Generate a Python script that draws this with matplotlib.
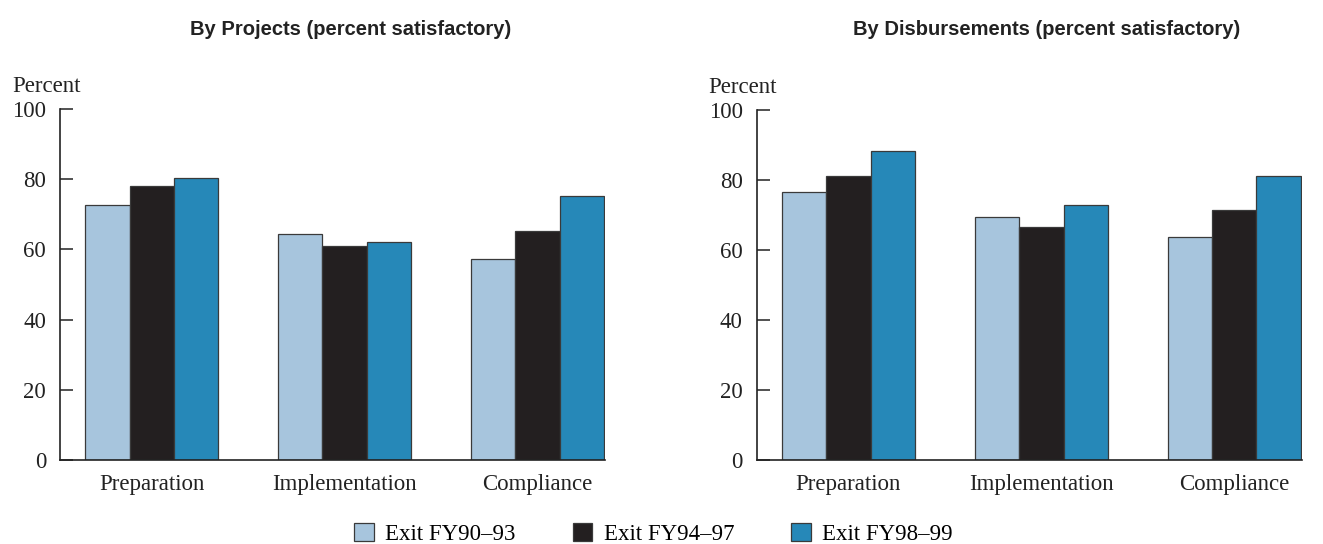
import matplotlib.pyplot as plt
import numpy as np
from matplotlib.patches import Patch

categories = ["Preparation", "Implementation", "Compliance"]
series = ["Exit FY90\u201393", "Exit FY94\u201397", "Exit FY98\u201399"]
colors = ["#a7c5dd", "#231f20", "#2688b8"]

projects = {
    "Exit FY90\u201393": [72.6, 64.4, 57.3],
    "Exit FY94\u201397": [78.0, 61.0, 65.2],
    "Exit FY98\u201399": [80.2, 62.1, 75.2],
}
disbursements = {
    "Exit FY90\u201393": [76.6, 69.5, 63.8],
    "Exit FY94\u201397": [81.2, 66.7, 71.5],
    "Exit FY98\u201399": [88.2, 72.8, 81.2],
}
yticks = [0, 20, 40, 60, 80, 100]

SERIF = "Liberation Serif"
SANS = "Liberation Sans"
FS = 16.5

fig = plt.figure(figsize=(13.23, 5.44), dpi=100)
ax_l = fig.add_axes([0.0454, 0.154, 0.412, 0.646])
ax_r = fig.add_axes([0.572, 0.154, 0.412, 0.644])

width = 0.23
x = np.arange(len(categories))


def draw(ax, data):
    for i, (name, col) in enumerate(zip(series, colors)):
        ax.bar(x + (i - 1) * width, data[name], width, color=col,
               edgecolor="#3a3a3a", linewidth=0.9, zorder=2)
    ax.set_xlim(-0.475, 2.35)
    ax.set_ylim(0, 100)
    ax.set_yticks(yticks)
    ax.set_xticks(x)
    ax.set_xticklabels(categories, fontfamily=SERIF, fontsize=FS)
    for lab in ax.get_yticklabels():
        lab.set_fontfamily(SERIF)
        lab.set_fontsize(FS)
    ax.tick_params(axis="y", direction="in", length=9, width=1.1, pad=10, colors="#222222")
    ax.tick_params(axis="x", length=0, pad=10, colors="#222222")
    for s in ["top", "right"]:
        ax.spines[s].set_visible(False)
    for s in ["left", "bottom"]:
        ax.spines[s].set_linewidth(1.2)
        ax.spines[s].set_color("#222222")
    ax.text(-0.088, 1.035, "Percent", transform=ax.transAxes, fontfamily=SERIF,
            fontsize=FS, color="#222222", ha="left", va="bottom")


draw(ax_l, projects)
draw(ax_r, disbursements)

fig.text(0.265, 0.945, "By Projects (percent satisfactory)", fontfamily=SANS,
         fontweight="bold", fontsize=14.5, ha="center", va="center", color="#222222")
fig.text(0.791, 0.945, "By Disbursements (percent satisfactory)", fontfamily=SANS,
         fontweight="bold", fontsize=14.5, ha="center", va="center", color="#222222")

handles = [Patch(facecolor=c, edgecolor="#3a3a3a", linewidth=0.9, label=s)
           for s, c in zip(series, colors)]
fig.legend(handles=handles, loc="lower center", bbox_to_anchor=(0.494, -0.04), ncol=3,
           frameon=False, prop={"family": SERIF, "size": FS}, handlelength=0.85,
           handleheight=0.85, handletextpad=0.5, columnspacing=2.5)

fig.savefig("out.png", dpi=100)
